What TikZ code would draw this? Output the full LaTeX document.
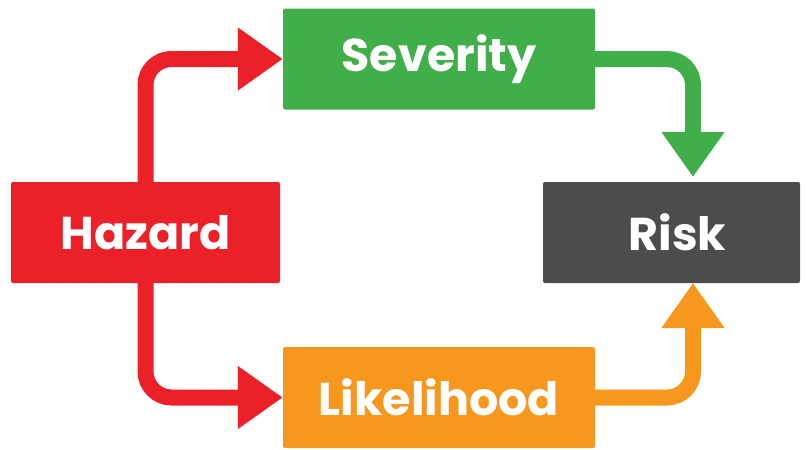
\documentclass[tikz,border=0pt]{standalone}
\usepackage{fontspec}
\setmainfont{Poppins}
\usetikzlibrary{arrows.meta}
\definecolor{hzred}{HTML}{EC2029}
\definecolor{svgreen}{HTML}{40AE49}
\definecolor{lkorange}{HTML}{F7971E}
\definecolor{rkgray}{HTML}{4C4C4E}
\tikzset{
  box/.style={rounded corners=2pt, minimum height=101pt, inner sep=0pt,
    text=white, font=\fontsize{46}{50}\selectfont\bfseries},
  flow/.style={line width=16pt, rounded corners=26pt,
    -{Triangle[width=60pt,length=45pt]}}
}
\begin{document}
\begin{tikzpicture}[x=1pt,y=-1pt]
\useasboundingbox (0,0) rectangle (807,450);
\node[box, fill=hzred, minimum width=269pt] (haz) at (145.5,232.5) {Hazard};
\node[box, fill=svgreen, minimum width=312pt] (sev) at (439,59) {Severity};
\node[box, fill=lkorange, minimum width=312pt] (lik) at (439,397.5) {Likelihood};
\node[box, fill=rkgray, minimum width=257pt] (risk) at (671.5,232.5) {\hspace*{12pt}Risk};
\coordinate (rtop) at (693,177);
\coordinate (rbot) at (693,283);
\draw[flow, hzred] (haz.north) |- (sev.west);
\draw[flow, hzred] (haz.south) |- (lik.west);
\draw[flow, svgreen] (sev.east) -| (rtop);
\draw[flow, lkorange] (lik.east) -| (rbot);
\end{tikzpicture}
\end{document}
